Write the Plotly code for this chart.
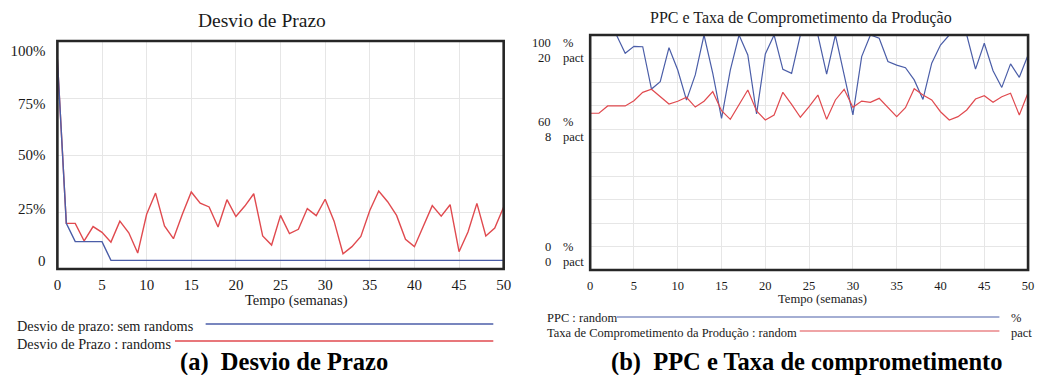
import plotly.graph_objects as go

W, H = 1042, 375

# ---------------- data ----------------
weeks = list(range(51))

desvio_sem_randoms = [0.92, 0.20, 0.12, 0.12, 0.12, 0.12] + [0.038] * 45
desvio_randoms = [0.92, 0.20, 0.20, 0.123, 0.186, 0.161, 0.118, 0.21, 0.159, 0.07,
                  0.24, 0.333, 0.189, 0.133, 0.24, 0.338, 0.289, 0.272, 0.184, 0.304,
                  0.23, 0.276, 0.33, 0.145, 0.105, 0.235, 0.155, 0.174, 0.265, 0.234,
                  0.306, 0.21, 0.067, 0.098, 0.143, 0.257, 0.342, 0.295, 0.235, 0.13,
                  0.098, 0.19, 0.278, 0.232, 0.282, 0.076, 0.162, 0.288, 0.145, 0.18,
                  0.272]

ppc_random = [100, 100, 100, 100, 92.2, 95.2, 95.0, 77.0, 80.1, 94.6,
              85.1, 72.3, 83.0, 100, 83.7, 64.5, 85.1, 100, 91.5, 66.4,
              91.9, 100, 85.4, 83.7, 100, 100, 100, 83.4, 100, 83.0,
              66.0, 90.8, 100, 98.6, 88.7, 87.2, 86.1, 80.9, 72.6, 88.0,
              95.7, 100, 100, 100, 85.5, 96.5, 84.8, 77.7, 87.7, 82.0,
              91.5]

taxa_random = [13.34, 13.34, 13.96, 13.96, 13.96, 14.41, 15.12, 15.38, 14.75, 14.13,
               14.36, 14.70, 13.87, 14.36, 15.18, 13.56, 12.82, 14.04, 15.32, 13.53,
               12.77, 13.19, 15.12, 14.10, 13.00, 13.90, 14.89, 12.82, 14.47, 15.38,
               13.85, 14.38, 14.27, 14.61, 13.81, 13.05, 13.81, 15.43, 14.89, 14.47,
               13.47, 12.77, 13.05, 13.62, 14.55, 14.83, 14.27, 14.75, 15.04, 13.19,
               15.09]

x_ticks = [0, 5, 10, 15, 20, 25, 30, 35, 40, 45, 50]
left_y_labels = ["100%", "75%", "50%", "25%", "0"]
right_num_labels = ["100", "20", "60", "8", "0", "0"]
right_unit_labels = ["%", "pact", "%", "pact", "%", "pact"]

title_a = "Desvio de Prazo"
title_b = "PPC e Taxa de Comprometimento da Produção"
x_title = "Tempo (semanas)"
legend_a = ["Desvio de prazo: sem randoms", "Desvio de Prazo : randoms"]
legend_b = ["PPC : random", "Taxa de Comprometimento da Produção : random"]
legend_b_units = ["%", "pact"]
caption_a = "(a)\u00a0\u00a0Desvio de Prazo"
caption_b = "(b)\u00a0\u00a0PPC e Taxa de comprometimento"

# ---------------- style ----------------
BLUE = "#4b5ea8"
RED = "#e04a4f"
GRID = "#e6e6e6"
FRAME = "#262626"
FONT = "Liberation Serif, Times New Roman, serif"


def px(x):
    return x / W


def py(y):
    return 1 - y / H


fig = go.Figure()

fig.add_trace(go.Scatter(x=weeks, y=desvio_randoms, mode="lines", xaxis="x", yaxis="y",
                         line=dict(color=RED, width=1.4), showlegend=False))
fig.add_trace(go.Scatter(x=weeks, y=desvio_sem_randoms, mode="lines", xaxis="x", yaxis="y",
                         line=dict(color=BLUE, width=1.4), showlegend=False))
fig.add_trace(go.Scatter(x=weeks, y=ppc_random, mode="lines", xaxis="x2", yaxis="y2",
                         line=dict(color=BLUE, width=1.2), showlegend=False))
fig.add_trace(go.Scatter(x=weeks, y=taxa_random, mode="lines", xaxis="x2", yaxis="y3",
                         line=dict(color=RED, width=1.2), showlegend=False))

# left chart label positions (nudged inside like the original)
left_label_pos = [0.956, 0.724, 0.5, 0.263, 0.035]

fig.update_layout(
    width=W, height=H,
    margin=dict(l=0, r=0, t=0, b=0),
    paper_bgcolor="white", plot_bgcolor="white",
    font=dict(family=FONT, color="#1a1a1a"),
    xaxis=dict(domain=[px(54), px(505.5)], range=[0, 50], tickvals=x_ticks,
               showgrid=True, gridcolor=GRID, gridwidth=1, zeroline=False,
               ticks="outside", ticklen=2, tickcolor="rgba(0,0,0,0)",
               tickfont=dict(size=15), anchor="y"),
    yaxis=dict(domain=[py(269), py(41)], range=[0, 1],
               tickvals=left_label_pos, ticktext=left_y_labels,
               showgrid=False, zeroline=False,
               ticks="outside", ticklen=8, tickcolor="rgba(0,0,0,0)",
               tickfont=dict(size=15), anchor="x",
               minor=dict(tickvals=[0.25, 0.5, 0.75], showgrid=True,
                          gridcolor=GRID, gridwidth=1)),
    xaxis2=dict(domain=[px(593), px(1036)], range=[0, 50], tickvals=x_ticks,
                showgrid=True, gridcolor=GRID, gridwidth=1, zeroline=False,
                ticks="outside", ticklen=4, tickcolor="rgba(0,0,0,0)",
                tickfont=dict(size=12.5), anchor="y2"),
    yaxis2=dict(domain=[py(270), py(35)], range=[0, 100], dtick=10,
                showgrid=True, gridcolor=GRID, gridwidth=1, zeroline=False,
                showticklabels=False, anchor="x2"),
    yaxis3=dict(range=[0, 20], overlaying="y2", visible=False, anchor="x2"),
)

# frames
for xr, yr in (("x domain", "y domain"), ("x2 domain", "y2 domain")):
    fig.add_shape(type="rect", xref=xr, yref=yr, x0=0, x1=1, y0=0, y1=1,
                  line=dict(color=FRAME, width=2.6), layer="above")

ann = []
# titles
ann.append(dict(text=title_a, x=px(261), y=py(20), xref="paper", yref="paper",
                showarrow=False, font=dict(size=19.5), xanchor="center", yanchor="middle"))
ann.append(dict(text=title_b, x=px(806), y=py(18), xref="paper", yref="paper",
                showarrow=False, font=dict(size=16), xanchor="center", yanchor="middle"))
# x titles
ann.append(dict(text=x_title, x=px(296), y=py(300), xref="paper", yref="paper",
                showarrow=False, font=dict(size=14.5), xanchor="center", yanchor="middle"))
ann.append(dict(text=x_title, x=px(828), y=py(299), xref="paper", yref="paper",
                showarrow=False, font=dict(size=12.6), xanchor="center", yanchor="middle"))

# right y labels (two columns)
right_label_pix = [43, 58, 122, 137, 247, 262]
for num, unit, yp in zip(right_num_labels, right_unit_labels, right_label_pix):
    ann.append(dict(text=num, x=px(555), y=py(yp), xref="paper", yref="paper",
                    showarrow=False, font=dict(size=12.5), xanchor="right", yanchor="middle"))
    ann.append(dict(text=unit, x=px(563), y=py(yp), xref="paper", yref="paper",
                    showarrow=False, font=dict(size=12.5), xanchor="left", yanchor="middle"))

# left legend
leg_a = [(legend_a[0], 326, 204, 324, BLUE), (legend_a[1], 344, 173, 341, RED)]
for txt, ty, lx0, ly, col in leg_a:
    ann.append(dict(text=txt, x=px(11), y=py(ty), xref="paper", yref="paper",
                    showarrow=False, font=dict(size=14.3), xanchor="left", yanchor="middle"))
    fig.add_shape(type="line", xref="paper", yref="paper", x0=px(lx0), x1=px(495),
                  y0=py(ly), y1=py(ly), line=dict(color=col, width=1.4))

# right legend
leg_b = [(legend_b[0], legend_b_units[0], 318, 620, 317, BLUE),
         (legend_b[1], legend_b_units[1], 333, 805, 331, RED)]
for txt, unit, ty, lx0, ly, col in leg_b:
    ann.append(dict(text=txt, x=px(547), y=py(ty), xref="paper", yref="paper",
                    showarrow=False, font=dict(size=12.5), xanchor="left", yanchor="middle"))
    ann.append(dict(text=unit, x=px(1017), y=py(ty), xref="paper", yref="paper",
                    showarrow=False, font=dict(size=12.5), xanchor="left", yanchor="middle"))
    fig.add_shape(type="line", xref="paper", yref="paper", x0=px(lx0), x1=px(1007),
                  y0=py(ly), y1=py(ly), line=dict(color=col, width=1.2))

# captions
ann.append(dict(text="<b>" + caption_a + "</b>", x=px(283), y=py(362), xref="paper", yref="paper",
                showarrow=False, font=dict(size=24.5, color="#000"), xanchor="center", yanchor="middle"))
ann.append(dict(text="<b>" + caption_b + "</b>", x=px(812), y=py(362), xref="paper", yref="paper",
                showarrow=False, font=dict(size=24.5, color="#000"), xanchor="center", yanchor="middle"))

fig.update_layout(annotations=ann)

fig.write_html("out.html",
               config={"displayModeBar": False},
               post_script="document.body.style.margin='0';document.body.style.overflow='hidden';")
